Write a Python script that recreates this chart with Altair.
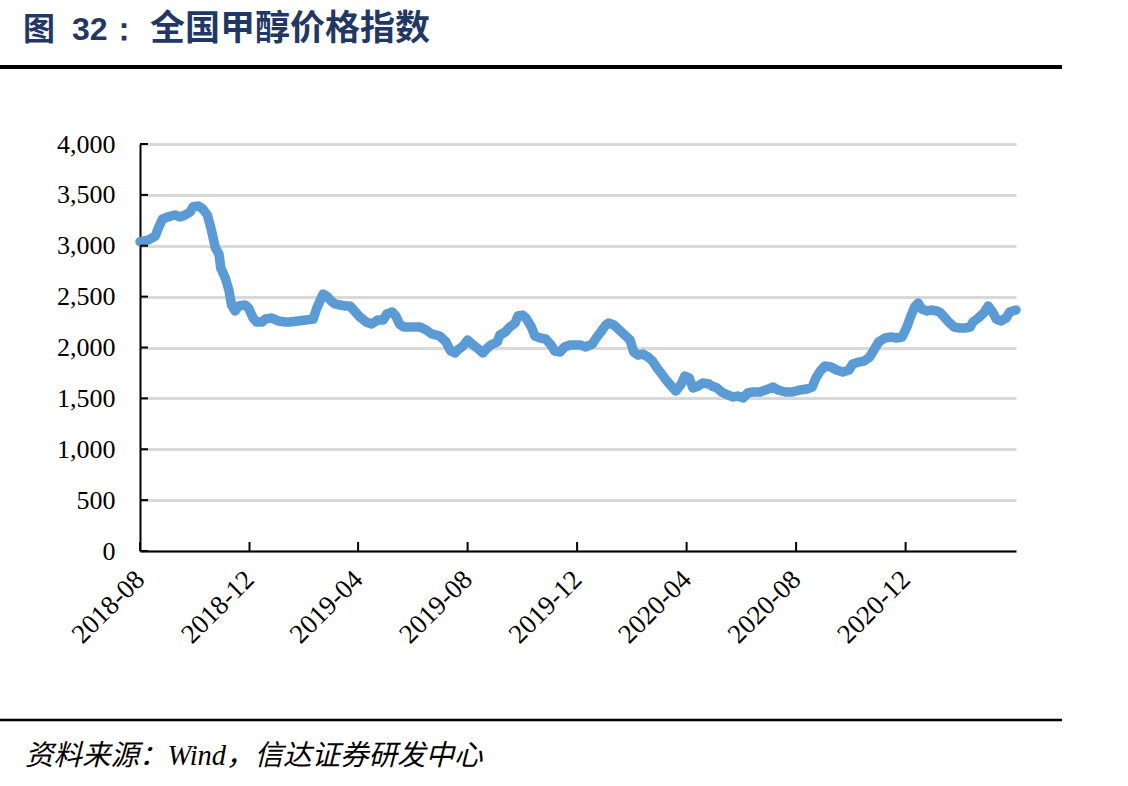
import altair as alt
import pandas as pd

# ---- data ----
dates = [
    "2018-08-01", "2018-08-10", "2018-08-18", "2018-08-21", "2018-08-26", "2018-09-01", "2018-09-09",
    "2018-09-15", "2018-09-20", "2018-09-26", "2018-09-29", "2018-10-05", "2018-10-10", "2018-10-15",
    "2018-10-19", "2018-10-21", "2018-10-24", "2018-10-28", "2018-10-30", "2018-11-04", "2018-11-08",
    "2018-11-11", "2018-11-15", "2018-11-19", "2018-11-26", "2018-11-30", "2018-12-05", "2018-12-09",
    "2018-12-15", "2018-12-19", "2018-12-26", "2019-01-02", "2019-01-10", "2019-01-15", "2019-01-24",
    "2019-02-02", "2019-02-10", "2019-02-14", "2019-02-18", "2019-02-21", "2019-02-25", "2019-03-02",
    "2019-03-06", "2019-03-12", "2019-03-17", "2019-03-23", "2019-03-29", "2019-04-03", "2019-04-10",
    "2019-04-16", "2019-04-23", "2019-04-29", "2019-05-03", "2019-05-09", "2019-05-13", "2019-05-17",
    "2019-05-22", "2019-05-31", "2019-06-09", "2019-06-16", "2019-06-22", "2019-07-01", "2019-07-08",
    "2019-07-13", "2019-07-18", "2019-07-21", "2019-07-27", "2019-08-01", "2019-08-06", "2019-08-13",
    "2019-08-18", "2019-08-23", "2019-08-27", "2019-09-03", "2019-09-06", "2019-09-12", "2019-09-17",
    "2019-09-23", "2019-09-26", "2019-10-01", "2019-10-05", "2019-10-11", "2019-10-15", "2019-10-21",
    "2019-10-27", "2019-11-02", "2019-11-06", "2019-11-12", "2019-11-17", "2019-11-23", "2019-11-30",
    "2019-12-05", "2019-12-10", "2019-12-18", "2019-12-23", "2019-12-29", "2020-01-02", "2020-01-05",
    "2020-01-11", "2020-01-17", "2020-01-23", "2020-01-29", "2020-02-02", "2020-02-07", "2020-02-12",
    "2020-02-18", "2020-02-23", "2020-02-28", "2020-03-05", "2020-03-10", "2020-03-16", "2020-03-20",
    "2020-03-26", "2020-03-30", "2020-04-04", "2020-04-08", "2020-04-14", "2020-04-19", "2020-04-26",
    "2020-04-29", "2020-05-05", "2020-05-10", "2020-05-17", "2020-05-23", "2020-05-28", "2020-06-03",
    "2020-06-08", "2020-06-14", "2020-06-22", "2020-07-01", "2020-07-06", "2020-07-12", "2020-07-20",
    "2020-07-28", "2020-08-05", "2020-08-13", "2020-08-19", "2020-08-23", "2020-08-28", "2020-09-02",
    "2020-09-09", "2020-09-15", "2020-09-22", "2020-09-29", "2020-10-03", "2020-10-10", "2020-10-16",
    "2020-10-22", "2020-10-28", "2020-11-01", "2020-11-08", "2020-11-15", "2020-11-21", "2020-11-27",
    "2020-12-02", "2020-12-06", "2020-12-11", "2020-12-15", "2020-12-19", "2020-12-25", "2020-12-29",
    "2021-01-05", "2021-01-09", "2021-01-14", "2021-01-18", "2021-01-24", "2021-01-30", "2021-02-05",
    "2021-02-11", "2021-02-14", "2021-02-20", "2021-02-26", "2021-03-03", "2021-03-08", "2021-03-12",
    "2021-03-17", "2021-03-23", "2021-03-27", "2021-04-03",
]
values = [
    3040, 3055, 3095, 3165, 3263, 3283, 3302,
    3283, 3302, 3332, 3381, 3391, 3361, 3302,
    3174, 3096, 2978, 2919, 2781, 2683, 2565,
    2418, 2359, 2408, 2418, 2388, 2290, 2251,
    2251, 2280, 2290, 2260, 2251, 2251, 2260,
    2270, 2280, 2388, 2467, 2526, 2506, 2457,
    2428, 2418, 2408, 2408, 2349, 2300, 2251,
    2231, 2270, 2270, 2329, 2349, 2310, 2231,
    2201, 2201, 2201, 2172, 2133, 2113, 2054,
    1966, 1946, 1975, 2015, 2074, 2034, 1985,
    1946, 1995, 2025, 2054, 2123, 2152, 2201,
    2241, 2310, 2319, 2290, 2201, 2113, 2093,
    2084, 2025, 1966, 1956, 2005, 2025, 2025,
    2025, 2005, 2034, 2103, 2172, 2221, 2241,
    2221, 2172, 2123, 2074, 1956, 1926, 1936,
    1907, 1867, 1799, 1730, 1671, 1612, 1572,
    1641, 1720, 1700, 1602, 1622, 1651, 1641,
    1622, 1602, 1563, 1533, 1514, 1523, 1504,
    1553, 1563, 1563, 1592, 1612, 1582, 1563,
    1563, 1582, 1592, 1612, 1700, 1769, 1818,
    1808, 1779, 1759, 1779, 1838, 1857, 1867,
    1907, 1995, 2054, 2093, 2103, 2093, 2103,
    2192, 2290, 2398, 2437, 2378, 2359, 2369,
    2359, 2339, 2290, 2251, 2201, 2192, 2192,
    2201, 2251, 2290, 2339, 2408, 2349, 2280,
    2260, 2290, 2349, 2369,
]
x_tick_dates = ["2018-08-01", "2018-12-01", "2019-04-01", "2019-08-01",
                "2019-12-01", "2020-04-01", "2020-08-01", "2020-12-01"]
y_ticks = [0, 500, 1000, 1500, 2000, 2500, 3000, 3500, 4000]

title_fig = "图"
title_num = "32："
title_main = "全国甲醇价格指数"
source_text = "资料来源：Wind，信达证券研发中心"

df = pd.DataFrame({"date": dates, "value": values})
xt = pd.DataFrame({"date": x_tick_dates})
yt = pd.DataFrame({"value": y_ticks})
one = pd.DataFrame({"k": [0]})

W, H = 876, 407
NAVY = "#1F3864"

x_scale = alt.Scale(type="utc",
                    domain=[alt.DateTime(year=2018, month=8, date=1, utc=True),
                            alt.DateTime(year=2021, month=4, date=3, utc=True)])
y_scale = alt.Scale(domain=[0, 4000], nice=False)

x_axis = alt.Axis(
    values=[alt.DateTime(year=int(s[:4]), month=int(s[5:7]), date=1, utc=True) for s in x_tick_dates],
    format="%Y-%m", labelAngle=-45, labelAlign="right", labelBaseline="middle",
    labelPadding=24, ticks=False, tickSize=0, grid=False,
    domainColor="black", domainWidth=2,
    labelFont="Liberation Serif", labelFontSize=27, labelColor="black", title=None,
)
y_axis = alt.Axis(
    values=y_ticks, format=",.0f", ticks=False, tickSize=0, grid=True,
    gridColor="#D9D9D9", gridWidth=3, domainColor="black", domainWidth=2,
    labelFont="Liberation Serif", labelFontSize=26, labelColor="black",
    labelPadding=25, title=None,
)

line = alt.Chart(df).mark_line(
    color="#5B9BD5", strokeWidth=9.5, strokeCap="round", strokeJoin="round"
).encode(
    x=alt.X("date:T", scale=x_scale, axis=x_axis),
    y=alt.Y("value:Q", scale=y_scale, axis=y_axis),
)

xticks = alt.Chart(xt).mark_rule(color="black", strokeWidth=2).encode(
    x=alt.X("date:T", scale=x_scale, axis=x_axis),
    y=alt.value(H), y2=alt.value(H - 9),
)
yticks = alt.Chart(yt).mark_rule(color="black", strokeWidth=2).encode(
    y=alt.Y("value:Q", scale=y_scale, axis=y_axis),
    x=alt.value(0), x2=alt.value(8),
)

base = alt.Chart(one)
t1 = base.mark_text(text=title_fig, font="Noto Sans CJK SC", fontWeight="bold",
                    fontSize=32, color=NAVY, align="left", baseline="alphabetic").encode(
    x=alt.value(-117), y=alt.value(-104))
t2 = base.mark_text(text=title_num, font="Liberation Sans", fontWeight="bold",
                    fontSize=32, color=NAVY, align="left", baseline="alphabetic").encode(
    x=alt.value(-68), y=alt.value(-104))
t3 = base.mark_text(text=title_main, font="Noto Sans CJK SC", fontWeight="bold",
                    fontSize=35, color=NAVY, align="left", baseline="alphabetic").encode(
    x=alt.value(10), y=alt.value(-104))
top_rule = base.mark_rule(color="black", strokeWidth=4).encode(
    x=alt.value(-140), x2=alt.value(922), y=alt.value(-77))
bottom_rule = base.mark_rule(color="black", strokeWidth=2.5).encode(
    x=alt.value(-140), x2=alt.value(922), y=alt.value(576))
src = base.mark_text(text=source_text, font="Liberation Serif, Noto Sans CJK SC",
                     fontStyle="italic", fontSize=28.5, color="black",
                     align="left", baseline="alphabetic").encode(
    x=alt.value(-115), y=alt.value(621))

chart = alt.layer(
    line, xticks, yticks, t1, t2, t3, top_rule, bottom_rule, src
).properties(
    width=W, height=H,
    autosize=alt.AutoSizeParams(type="none"),
    padding={"left": 140, "top": 144, "right": 112, "bottom": 235},
    background="white",
).configure_view(stroke=None)

chart.save("out.html", embed_options={"renderer": "svg", "actions": False})
